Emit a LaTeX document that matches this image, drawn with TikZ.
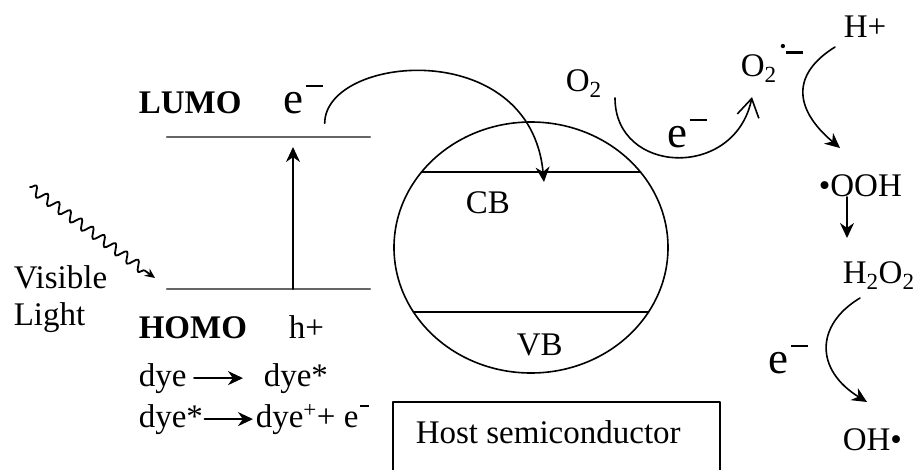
\documentclass[tikz,border=0pt]{standalone}
\usepackage{fontspec}
\setmainfont{Liberation Serif}
\usetikzlibrary{arrows.meta,decorations.pathmorphing,shapes.geometric}
\newcommand{\elec}{{\fontsize{45}{45}\selectfont e}\kern0.06em\raisebox{0.79em}{\rule{0.52em}{0.07em}}}
\newcommand{\smallelec}{e\kern0.05em\raisebox{0.6em}{\rule{0.27em}{0.06em}}}
\newcommand{\rdot}{\kern0.1em\raisebox{0.7em}{\fontsize{18}{18}\selectfont\textbullet}}
\begin{document}
\begin{tikzpicture}[x=1pt, y=-1pt, font=\fontsize{33}{40}\selectfont, line join=round, line cap=round,
	>={Stealth[length=15pt,width=14pt]}, line width=1.6pt,
	txt/.style={anchor=base west, inner sep=0pt},
	level/.style={black!60, line width=2.4pt}]
	\useasboundingbox (0,0) rectangle (916,469);
	\clip (0,0) rectangle (916,469);
	\path
	(167,137) coordinate (L1) (370,137) coordinate (L2)
	(167,289) coordinate (H1) (370,289) coordinate (H2)
	(293,289) coordinate (X1) (293,147) coordinate (X2)
	(30,187) coordinate (W1) (155,278) coordinate (W2)
	(421.5,172) coordinate (C1) (640.5,172) coordinate (C2)
	(413.5,312) coordinate (V1) (648.5,312) coordinate (V2)
	(544,182) coordinate (CBin)
	(615,98) coordinate (O1) (752,97) coordinate (O2)
	(835,47) coordinate (P1) (840,148) coordinate (P2)
	(847,197) coordinate (Q1) (847,238) coordinate (Q2)
	(860,298) coordinate (R1) (867,402) coordinate (R2)
	;
	% labels
	\foreach \n/\p/\t in {lumo/{138,113}/\textbf{LUMO}, elumo/{283,113}/\elec, homo/{138,338}/\textbf{HOMO},
		hplus/{288,338}/h+, dyeA/{138,386}/dye, dyeB/{263,386}/dye*, dyeC/{138,427}/dye*,
		dyeD/{255,427}/dye\textsuperscript{+}+ \smallelec, vis/{13,288}/Visible, lig/{13,325}/Light,
		cb/{465,213}/CB, vb/{516,355}/VB, otwo/{565,91}/O\textsubscript{2}, eo/{667,147}/\elec,
		sup/{740,76}/O\textsubscript{2}\rdot\raisebox{0.68em}{\rule{0.5em}{0.07em}},
		hp/{843,37}/H+, ooh/{818,196}/\textbullet OOH, hoo/{842,283}/H\textsubscript{2}O\textsubscript{2},
		eh/{768,373}/\elec, oh/{842,450}/OH\textbullet}
	\node[txt] (\n) at (\p) {\t};
	% dye levels
	\draw[level] (L1)--(L2) (H1)--(H2);
	\draw[->, line width=2pt] (X1)--(X2);
	\draw[->, line width=1.8pt, decorate, decoration={snake, amplitude=5pt, segment length=14pt, post length=10pt},
		>={Stealth[length=10pt,width=9pt]}] (W1)--(W2);
	\draw[->, line width=2.2pt, shorten <=7pt, shorten >=20pt] (dyeA.east)--(dyeB.west |- dyeA.east);
	\draw[->, line width=2.2pt, shorten <=1pt, shorten >=2pt] (dyeC.east)--(dyeD.west |- dyeC.east);
	% host semiconductor
	\node[draw, ellipse, minimum width=274pt, minimum height=251pt, inner sep=0pt] (host) at (531,247.5) {};
	\draw (C1)--(C2) (V1)--(V2);
	\draw[->] ([shift={(1,9)}]elumo.south east) .. controls (325,55) and (530,35) .. (CBin);
	\draw (393,402) rectangle (720,490);
	\node[txt] (hs) at (415,443) {Host semiconductor};
	% oxygen reduction
	\draw[-{Straight Barb[length=18pt,width=22pt]}] (O1) .. controls (615,175) and (735,180) .. (O2);
	\draw[->] (P1) .. controls (790,75) and (795,110) .. (P2);
	\draw[->] (Q1)--(Q2);
	\draw[->] (R1) .. controls (815,325) and (815,370) .. (R2);
\end{tikzpicture}
\end{document}
